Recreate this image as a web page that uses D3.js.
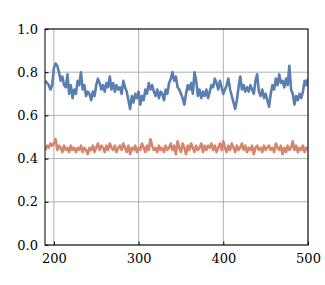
<!DOCTYPE html>
<html>
<head>
<meta charset="utf-8">
<script src="https://cdn.jsdelivr.net/npm/d3@7"></script>
<style>
  body { margin: 0; background: #fff; }
</style>
</head>
<body>
<svg id="chart" width="325" height="285"></svg>
<script>
// x runs 190..500 in steps of 2
var steps = d3.range(190, 501, 2);

var blueValues = [
  .76,.75,.74,.72,.74, .82,.84,.83,.80,.76,
  .78,.74,.73,.79,.70, .74,.68,.72,.70,.76,
  .74,.80,.72,.74,.69, .71,.70,.67,.71,.69,
  .74,.77,.75,.72,.74, .71,.75,.73,.78,.72,
  .75,.71,.74,.72,.73, .70,.76,.73,.71,.67,
  .63,.69,.66,.70,.68, .71,.65,.69,.67,.72,
  .70,.75,.72,.74,.71, .69,.72,.68,.71,.70,
  .67,.72,.70,.75,.77, .80,.76,.78,.73,.72,
  .70,.68,.65,.70,.74, .72,.75,.70,.80,.76,
  .69,.72,.68,.71,.69, .72,.68,.71,.74,.73,
  .77,.75,.72,.76,.73, .70,.72,.74,.77,.72,
  .69,.66,.63,.67,.73, .78,.72,.74,.71,.73,
  .71,.74,.72,.70,.76, .79,.71,.69,.72,.68,
  .70,.67,.64,.70,.74, .72,.77,.74,.79,.75,
  .76,.73,.77,.74,.83, .72,.70,.65,.69,.67,
  .70,.68,.71,.76,.74, .77
];

var orangeValues = [
  .44,.46,.45,.47,.46, .47,.49,.44,.46,.45,
  .43,.46,.44,.45,.43, .46,.44,.45,.43,.45,
  .44,.46,.43,.45,.44, .42,.45,.44,.46,.43,
  .45,.47,.44,.46,.45, .43,.46,.44,.47,.45,
  .44,.46,.43,.45,.46, .44,.47,.45,.43,.46,
  .42,.45,.44,.46,.43, .45,.44,.47,.45,.43,
  .46,.44,.49,.46,.44, .45,.43,.46,.44,.45,
  .43,.46,.44,.45,.47, .44,.46,.42,.48,.45,
  .43,.47,.45,.42,.46, .44,.47,.45,.43,.46,
  .44,.45,.47,.43,.46, .44,.46,.45,.47,.44,
  .46,.43,.45,.47,.44, .48,.45,.43,.46,.44,
  .47,.45,.43,.46,.44, .45,.47,.44,.46,.43,
  .45,.44,.46,.42,.45, .46,.44,.45,.43,.46,
  .44,.45,.46,.44,.45, .43,.47,.45,.44,.46,
  .42,.45,.43,.46,.44, .45,.48,.44,.46,.43,
  .45,.44,.46,.43,.45, .44
];

var xTicks = [200, 300, 400, 500];
var yTicks = [0, 0.2, 0.4, 0.6, 0.8, 1.0];

var svg = d3.select("#chart"),
    margin = { top: 29, right: 17, bottom: 40, left: 45 },
    width = +svg.attr("width") - margin.left - margin.right,
    height = +svg.attr("height") - margin.top - margin.bottom;

var g = svg.append("g").attr("transform", "translate(" + margin.left + "," + margin.top + ")");

var x = d3.scaleLinear().domain([189.5, 500]).range([0, width]);
var y = d3.scaleLinear().domain([0, 1]).range([height, 0]);

// grid
g.append("g").selectAll("line").data(xTicks).enter().append("line")
    .attr("x1", d => x(d)).attr("x2", d => x(d))
    .attr("y1", 0).attr("y2", height)
    .attr("stroke", "#b0b0b0").attr("stroke-width", 1);
g.append("g").selectAll("line").data(yTicks).enter().append("line")
    .attr("x1", 0).attr("x2", width)
    .attr("y1", d => y(d)).attr("y2", d => y(d))
    .attr("stroke", "#b0b0b0").attr("stroke-width", 1);

g.append("clipPath").attr("id", "clip")
  .append("rect").attr("width", width).attr("height", height);

var line = d3.line()
    .x(function(d, i) { return x(steps[i]); })
    .y(function(d) { return y(d); });

g.append("path").datum(orangeValues)
    .attr("clip-path", "url(#clip)")
    .attr("fill", "none").attr("stroke", "#d5866d")
    .attr("stroke-width", 2.6).attr("stroke-linejoin", "round")
    .attr("d", line);

g.append("path").datum(blueValues)
    .attr("clip-path", "url(#clip)")
    .attr("fill", "none").attr("stroke", "#5a7eb0")
    .attr("stroke-width", 2.6).attr("stroke-linejoin", "round")
    .attr("d", line);

// axes, ticks pointing inward
var xAxis = g.append("g").attr("transform", "translate(0," + height + ")")
    .call(d3.axisBottom(x).tickValues(xTicks).tickSize(-3.5).tickPadding(9).tickFormat(d3.format("d")));
var yAxis = g.append("g")
    .call(d3.axisLeft(y).tickValues(yTicks).tickSize(-3.5).tickPadding(7).tickFormat(d3.format(".1f")));

[xAxis, yAxis].forEach(function(a) {
    a.attr("font-family", "DejaVu Serif").attr("font-size", 13);
    a.select(".domain").remove();
    a.selectAll(".tick line").attr("stroke", "#000").attr("stroke-width", 1);
    a.selectAll(".tick text").attr("fill", "#000");
});

g.append("rect").attr("width", width).attr("height", height)
    .attr("fill", "none").attr("stroke", "#000").attr("stroke-width", 1);
</script>
</body>
</html>
